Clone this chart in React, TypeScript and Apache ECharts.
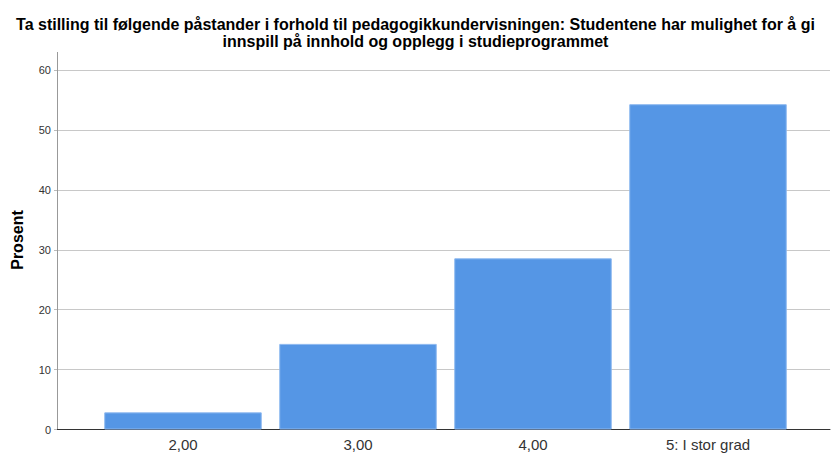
import React, { useEffect, useRef } from "react";
import * as echarts from "echarts";

const titleLines = [
  "Ta stilling til følgende påstander i forhold til pedagogikkundervisningen: Studentene har mulighet for å gi",
  "innspill på innhold og opplegg i studieprogrammet",
];
const categories = ["2,00", "3,00", "4,00", "5: I stor grad"];
const values = [2.86, 14.29, 28.57, 54.29];
const yTicks = { min: 0, max: 60, interval: 10 };
const yName = "Prosent";

const FONT = "Arial, 'Liberation Sans', sans-serif";

export default function App() {
  const ref = useRef<HTMLDivElement>(null);
  useEffect(() => {
    if (!ref.current) return;
    const chart = echarts.init(ref.current, undefined, { renderer: "svg" });
    const top = 70;
    const bottom = 23.5;
    chart.setOption({
      animation: false,
      backgroundColor: "#ffffff",
      title: {
        text: titleLines.join("\n"),
        left: "center",
        top: 11,
        textStyle: {
          fontFamily: FONT,
          fontSize: 16,
          fontWeight: "bold",
          color: "#000",
          lineHeight: 17,
        },
      },
      grid: [
        { left: 57, right: 1, top, bottom },
        { left: 95.5, right: 35.5, top, bottom },
      ],
      xAxis: [
        {
          type: "value",
          gridIndex: 0,
          min: 0,
          max: 1,
          axisLine: { show: true, lineStyle: { color: "#333", width: 1 } },
          axisTick: { show: false },
          axisLabel: { show: false },
          splitLine: { show: false },
        },
        {
          type: "category",
          gridIndex: 1,
          data: categories,
          axisLine: { show: false },
          axisTick: { show: false },
          axisLabel: {
            fontFamily: FONT,
            fontSize: 15,
            color: "#333",
            margin: 7,
          },
        },
      ],
      yAxis: [
        {
          type: "value",
          gridIndex: 0,
          min: yTicks.min,
          max: yTicks.max,
          interval: yTicks.interval,
          axisLine: { show: true, lineStyle: { color: "#999", width: 1 } },
          axisTick: { show: true, length: 3, lineStyle: { color: "#bbb" } },
          axisLabel: {
            fontFamily: FONT,
            fontSize: 11,
            color: "#333",
            margin: 6,
          },
          splitLine: { show: true, lineStyle: { color: "#c8c8c8", width: 1 } },
        },
        {
          type: "value",
          gridIndex: 1,
          min: yTicks.min,
          max: yTicks.max,
          show: false,
          splitLine: { show: false },
        },
      ],
      graphic: [
        {
          type: "line",
          shape: { x1: 57.5, y1: 52, x2: 57.5, y2: 70 },
          style: { stroke: "#999", lineWidth: 1 },
          silent: true,
        },
        {
          type: "text",
          x: 17,
          y: 240,
          rotation: Math.PI / 2,
          style: {
            text: yName,
            fontFamily: FONT,
            fontSize: 16,
            fontWeight: "bold",
            fill: "#000",
            align: "center",
            verticalAlign: "middle",
          },
        },
      ],
      series: [
        {
          type: "bar",
          xAxisIndex: 1,
          yAxisIndex: 1,
          data: values,
          barCategoryGap: "10%",
          itemStyle: {
            color: "#5596e5",
            borderColor: "#8db8ef",
            borderWidth: 1,
          },
          z: 3,
        },
      ],
    });
    return () => chart.dispose();
  }, []);
  return <div ref={ref} style={{ width: 831, height: 453, position: "absolute", left: 0, top: 0 }} />;
}
